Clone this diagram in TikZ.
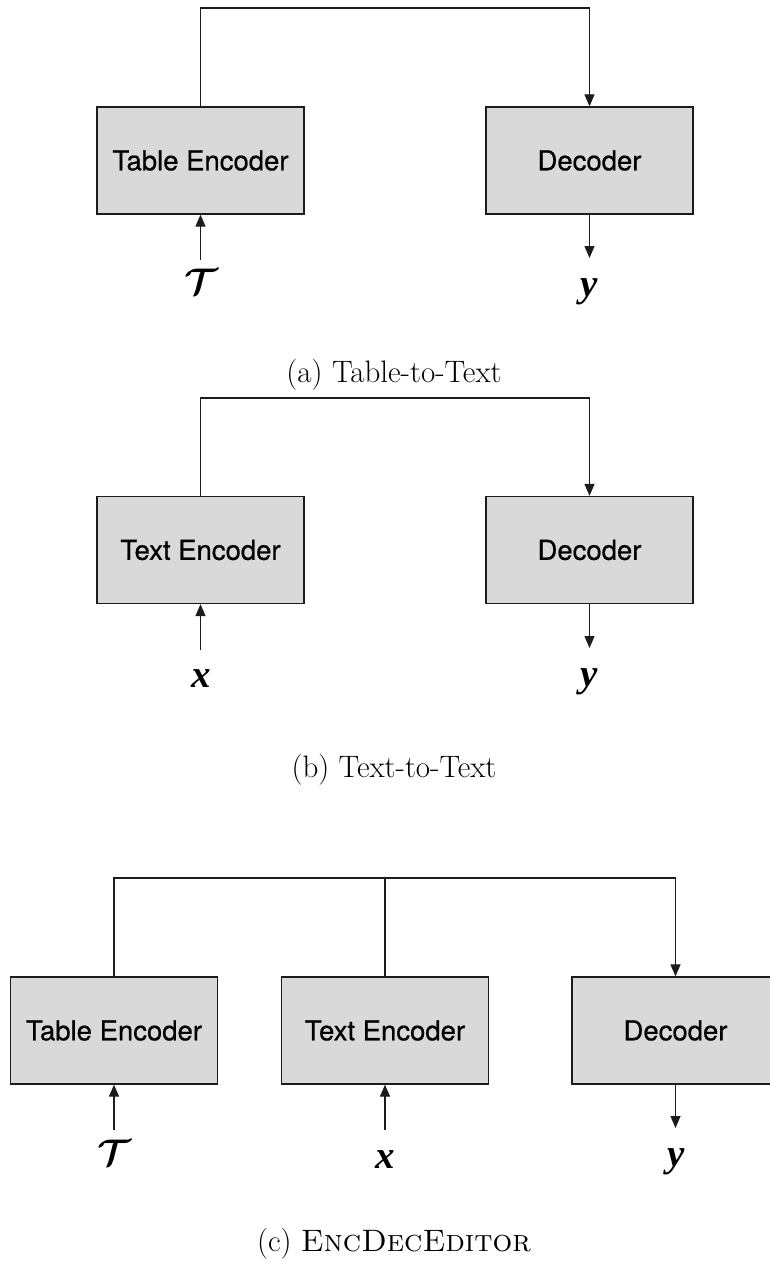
\RequirePackage{fix-cm}
\documentclass[tikz,border=0pt]{standalone}
\usepackage{fontspec}
\usepackage{bm}
\newfontfamily\boxfont[FakeBold=0.6]{TeX Gyre Heros}
\newfontfamily\tmsfont{Liberation Serif}
\usetikzlibrary{arrows.meta}
\definecolor{boxfill}{HTML}{D9D9D9}
\definecolor{linecol}{HTML}{1C1C1C}
\tikzset{
  encbox/.style={draw=linecol, fill=boxfill, line width=1.3pt, minimum width=207pt, minimum height=107pt, inner sep=0pt, font=\boxfont\fontsize{27.5}{32}\selectfont},
  conn/.style={draw=linecol, line width=1.2pt},
  arr/.style={conn, -{Triangle[length=12pt,width=10pt]}},
  var/.style={inner sep=0pt, font=\tmsfont\bfseries\itshape\fontsize{39}{44}\selectfont},
  callabel/.style={inner sep=0pt, font=\fontsize{37}{42}\selectfont},
  captext/.style={inner sep=0pt, font=\fontsize{31}{36}\selectfont},
}
\begin{document}
\begin{tikzpicture}[x=1pt,y=-1pt]
\useasboundingbox (0,0) rectangle (769,1264);
% (a)
\node[encbox] (ta) at (200.5,160.5) {Table Encoder};
\node[encbox] (da) at (589.5,160.5) {Decoder};
\node[callabel] (Ta) at (201,282) {$\bm{\mathcal{T}}$};
\node[var] (ya) at (589,292) {y};
\coordinate (topa) at (395,8);
\coordinate (ina) at (200.5,260);
\coordinate (outa) at (589.5,258);
\draw[arr] (ta.north) |- (topa) -| (da.north);
\draw[arr] (ina) -- (ta.south);
\draw[arr] (da.south) -- (outa);
\node[captext] (capa) at (394,375) {(a) Table-to-Text};
% (b)
\node[encbox] (tb) at (200.5,550) {Text Encoder};
\node[encbox] (db) at (589.5,550) {Decoder};
\node[var] (xb) at (201,678.5) {x};
\node[var] (yb) at (589,681.5) {y};
\coordinate (topb) at (395,398);
\coordinate (inb) at (200.5,650);
\coordinate (outb) at (589.5,648);
\draw[arr] (tb.north) |- (topb) -| (db.north);
\draw[arr] (inb) -- (tb.south);
\draw[arr] (db.south) -- (outb);
\node[captext] (capb) at (394,770) {(b) Text-to-Text};
% (c)
\node[encbox] (tc) at (114,1030.5) {Table Encoder};
\node[encbox] (xc) at (385,1030.5) {Text Encoder};
\node[encbox] (dc) at (675.5,1030.5) {Decoder};
\node[callabel] (Tc) at (114,1153) {$\bm{\mathcal{T}}$};
\node[var] (xlc) at (385,1159.5) {x};
\node[var] (yc) at (676,1162) {y};
\coordinate (topc) at (395,878);
\coordinate (intc) at (114,1130);
\coordinate (inxc) at (385,1130);
\coordinate (outc) at (675.5,1128);
\draw[arr] (tc.north) |- (topc) -| (dc.north);
\draw[conn] (xc.north) -- (xc.north |- topc);
\draw[arr] (intc) -- (tc.south);
\draw[arr] (inxc) -- (xc.south);
\draw[arr] (dc.south) -- (outc);
\node[captext] (capc) at (394,1244) {(c) \textsc{EncDecEditor}};
\end{tikzpicture}
\end{document}
